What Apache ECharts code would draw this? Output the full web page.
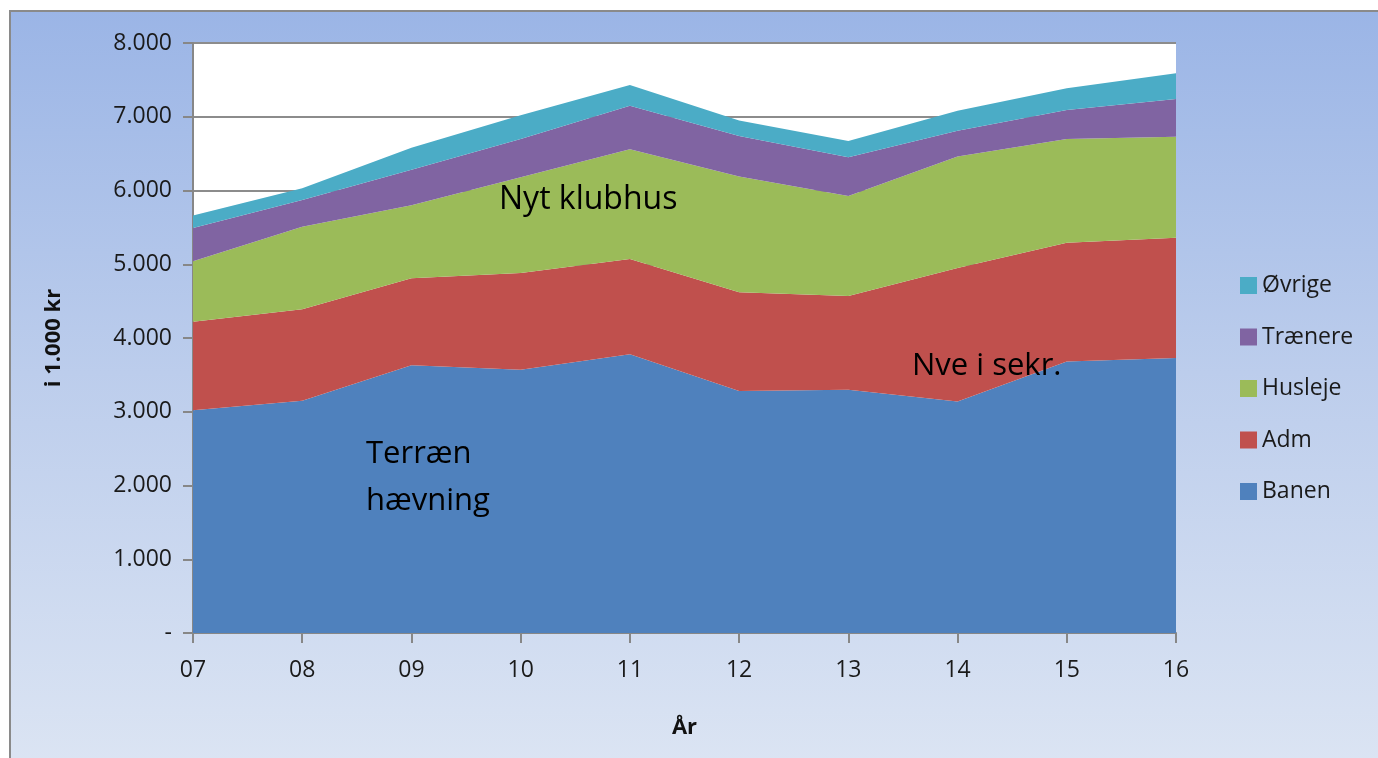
<!DOCTYPE html>
<html>
<head>
<meta charset="utf-8">
<script src="https://cdn.jsdelivr.net/npm/echarts@6/dist/echarts.min.js"></script>
<style>
  html, body { margin: 0; padding: 0; background: #ffffff; }
  #wrap { position: relative; width: 1378px; height: 758px; overflow: hidden; background: #ffffff; }
  #frame { position: absolute; left: 9px; top: 10px; width: 1400px; height: 800px;
           border-left: 2px solid #8a8a8a; border-top: 2px solid #8a8a8a;
           background: linear-gradient(to bottom, #9bb5e6 0%, #bccdec 45%, #dfe7f4 100%); }
  #chart { position: absolute; left: 0; top: 0; width: 1378px; height: 758px; }
</style>
</head>
<body>
<div id="wrap">
  <div id="frame"></div>
  <div id="chart"></div>
</div>
<script>
const years = ['07', '08', '09', '10', '11', '12', '13', '14', '15', '16'];
const banen   = [3020, 3150, 3630, 3570, 3780, 3280, 3300, 3140, 3680, 3730];
const adm     = [1200, 1240, 1180, 1310, 1290, 1340, 1270, 1810, 1610, 1630];
const husleje = [820, 1120, 990, 1300, 1490, 1570, 1355, 1510, 1410, 1370];
const traenere = [450, 360, 480, 520, 590, 550, 525, 350, 390, 510];
const ovrige  = [170, 160, 300, 320, 280, 210, 220, 270, 295, 350];
const yTicks = [0, 1000, 2000, 3000, 4000, 5000, 6000, 7000, 8000];

const FONT = '"Open Sans", Lato, sans-serif';
const colors = { banen: '#4f81bd', adm: '#c0504d', husleje: '#9bbb59', traenere: '#8064a2', ovrige: '#4bacc6' };

function mk(name, data, color) {
  return {
    name: name, type: 'line', stack: 'total', data: data,
    symbol: 'none', showSymbol: false,
    lineStyle: { width: 0, color: color },
    itemStyle: { color: color },
    areaStyle: { color: color, opacity: 1 },
    emphasis: { disabled: true }
  };
}

const chart = echarts.init(document.getElementById('chart'), null, { renderer: 'canvas' });
chart.setOption({
  backgroundColor: 'transparent',
  animation: false,
  grid: { left: 193, right: 202, top: 43, bottom: 125, show: true, backgroundColor: '#ffffff', borderWidth: 0 },
  legend: {
    orient: 'vertical', left: 1235, top: 269,
    itemWidth: 17, itemHeight: 17, itemGap: 28.5, icon: 'rect',
    textStyle: { fontSize: 23, color: '#1a1a1a', fontFamily: FONT, padding: [0, 0, 0, 0] },
    data: ['Øvrige', 'Trænere', 'Husleje', 'Adm', 'Banen']
  },
  xAxis: {
    type: 'category', data: years, boundaryGap: false,
    name: 'År', nameLocation: 'middle', nameGap: 84,
    nameTextStyle: { fontSize: 22, fontWeight: 'bold', color: '#111', fontFamily: FONT },
    axisLine: { lineStyle: { color: '#878787', width: 2 } },
    axisTick: { show: true, length: 10, lineStyle: { color: '#878787', width: 2 } },
    axisLabel: { fontSize: 23, color: '#1a1a1a', fontFamily: FONT, margin: 26 },
    splitLine: { show: false }
  },
  yAxis: {
    type: 'value', min: yTicks[0], max: yTicks[yTicks.length - 1], interval: 1000,
    name: 'i 1.000 kr', nameLocation: 'middle', nameGap: 128, nameRotate: 90,
    nameTextStyle: { fontSize: 22, fontWeight: 'bold', color: '#111', fontFamily: FONT },
    axisLine: { show: true, lineStyle: { color: '#878787', width: 2 } },
    axisTick: { show: true, length: 10, lineStyle: { color: '#878787', width: 2 } },
    axisLabel: {
      fontSize: 23, color: '#1a1a1a', fontFamily: FONT, margin: 21,
      formatter: function (v) { return v === 0 ? '-' : (v / 1000).toFixed(0) + '.000'; }
    },
    splitLine: { show: true, lineStyle: { color: '#8c8c8c', width: 2 } }
  },
  series: [
    mk('Banen', banen, colors.banen),
    mk('Adm', adm, colors.adm),
    mk('Husleje', husleje, colors.husleje),
    mk('Trænere', traenere, colors.traenere),
    mk('Øvrige', ovrige, colors.ovrige)
  ],
  graphic: [
    { type: 'text', left: 499, top: 184, z: 100, style: { text: 'Nyt klubhus', fontSize: 32, fill: '#000', fontFamily: FONT } },
    { type: 'text', left: 366, top: 431, z: 100, style: { text: 'Terræn\nhævning', fontSize: 31, lineHeight: 47, fill: '#000', fontFamily: FONT } },
    { type: 'text', left: 912, top: 351, z: 100, style: { text: 'Nve i sekr.', fontSize: 31, fill: '#000', fontFamily: FONT } }
  ]
});
</script>
</body>
</html>
